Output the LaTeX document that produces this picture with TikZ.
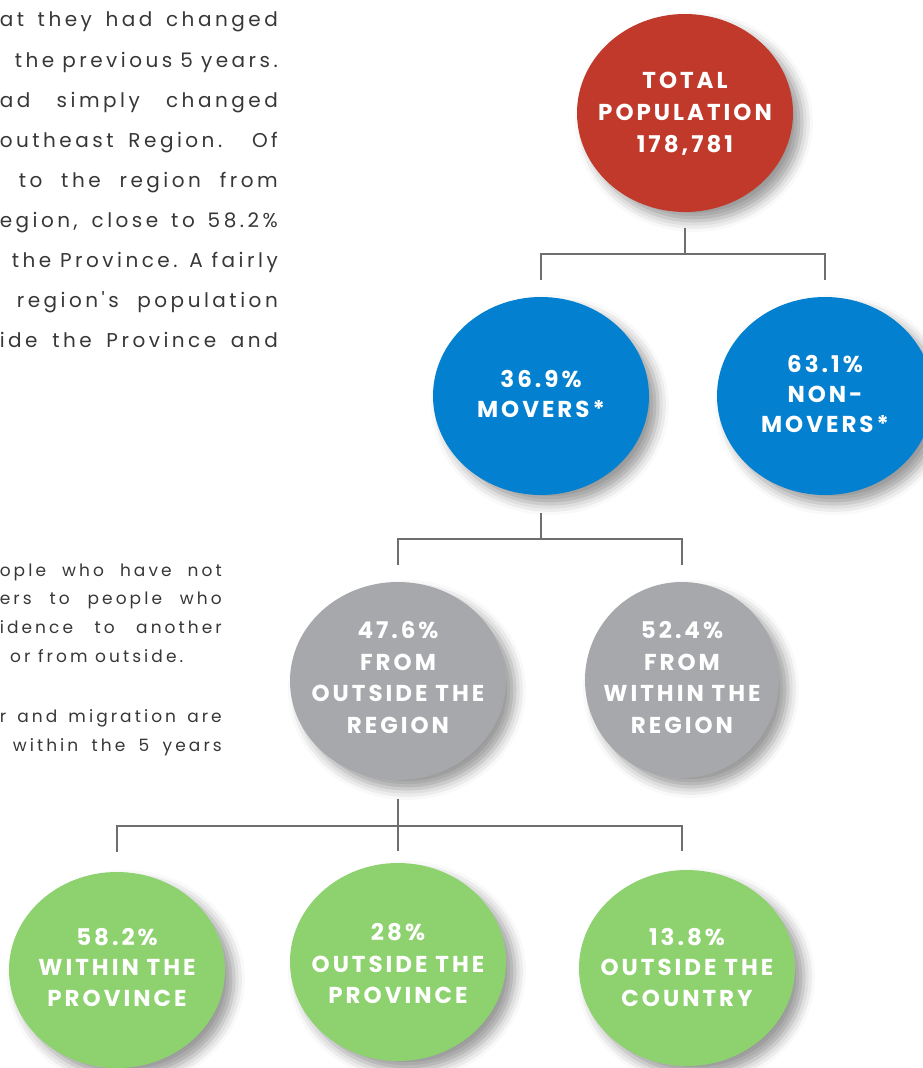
\documentclass[tikz,border=0pt]{standalone}
\usepackage{fontspec}
\setmainfont{Poppins}
\newfontfamily\bubblefam{Poppins}[LetterSpace=13]
\newfontfamily\bodyfam{Poppins}[LetterSpace=17.5]
\newfontfamily\notefam{Poppins}[LetterSpace=18]
\usetikzlibrary{shapes.geometric,shadows.blur}

\definecolor{popred}{RGB}{192,57,43}
\definecolor{popblue}{RGB}{3,129,208}
\definecolor{popgray}{RGB}{167,168,171}
\definecolor{popgreen}{RGB}{142,210,112}
\definecolor{linkgray}{RGB}{110,110,110}
\definecolor{bodytext}{RGB}{55,55,55}

\tikzset{
  bubble/.style={ellipse, inner sep=0pt, minimum width=216pt, minimum height=198pt,
    blur shadow={shadow xshift=9pt, shadow yshift=-9pt, shadow blur radius=11pt, shadow opacity=40}},
  redbubble/.style={bubble, fill=popred},
  bluebubble/.style={bubble, fill=popblue},
  graybubble/.style={bubble, fill=popgray},
  greenbubble/.style={bubble, fill=popgreen},
  bubbletext/.style={inner sep=0pt, text=white, align=center,
    font=\bubblefam\bfseries\fontsize{23}{31}\selectfont},
  link/.style={draw=linkgray, line width=2pt},
  bodyline/.style={inner sep=0pt, anchor=base east, text=bodytext,
    font=\bodyfam\fontsize{20}{24}\selectfont},
  noteline/.style={inner sep=0pt, anchor=base east, text=bodytext,
    font=\notefam\fontsize{17}{22}\selectfont},
}

\begin{document}
\begin{tikzpicture}[x=1pt, y=-1pt]
\useasboundingbox (0,0) rectangle (922,1068);

% paragraph running in from the left margin
\node[bodyline] (p1) at (278,27)  {\makebox[278pt][s]{at they had changed}};
\node[bodyline] (p2) at (278,67)  {\makebox[263pt][s]{the previous 5 years.}};
\node[bodyline] (p3) at (278,107) {\makebox[278pt][s]{ad simply changed}};
\node[bodyline] (p4) at (278,147) {\makebox[278pt][s]{outheast Region. Of}};
\node[bodyline] (p5) at (278,187) {\makebox[259pt][s]{to the region from}};
\node[bodyline] (p6) at (278,227) {\makebox[278pt][s]{egion, close to 58.2\%}};
\node[bodyline] (p7) at (278,267) {\makebox[266pt][s]{the Province. A fairly}};
\node[bodyline] (p8) at (278,307) {\makebox[261pt][s]{region's population}};
\node[bodyline] (p9) at (278,347) {\makebox[278pt][s]{ide the Province and}};

% footnote text
\node[noteline] (n1) at (222,576) {\makebox[222pt][s]{ople who have not}};
\node[noteline] (n2) at (222,604) {\makebox[222pt][s]{ers to people who}};
\node[noteline] (n3) at (222,633) {\makebox[222pt][s]{idence to another}};
\node[noteline, anchor=base west] (n4) at (10,662) {or from outside.};
\node[noteline] (n5) at (222,722) {\makebox[222pt][s]{r and migration are}};
\node[noteline] (n6) at (222,751) {\makebox[209pt][s]{within the 5 years}};

% population tree: bubbles
\node[redbubble] (total) at (685,113) {};
\node[bluebubble] (movers) at (541,396) {};
\node[bluebubble] (nonmovers) at (825,396) {};
\node[graybubble] (outreg) at (398,681) {};
\node[graybubble, minimum width=194pt, minimum height=196pt] (inreg) at (682,680) {};
\node[greenbubble, minimum height=196pt] (inprov) at (117,970) {};
\node[greenbubble] (outprov) at (398,962) {};
\node[greenbubble, minimum height=196pt] (outcountry) at (687,968) {};

% bubble labels
\node[bubbletext, font=\bubblefam\bfseries\fontsize{23}{32}\selectfont] (total-t) at (685,113.5) {TOTAL\\POPULATION\\178,781};
\node[bubbletext, font=\bubblefam\bfseries\fontsize{23}{30}\selectfont] (movers-t) at (541,393.5) {36.9\%\\MOVERS*};
\node[bubbletext, font=\bubblefam\bfseries\fontsize{23}{30}\selectfont] (nonmovers-t) at (825,394) {63.1\%\\NON-\\MOVERS*};
\node[bubbletext, font=\bubblefam\bfseries\fontsize{23}{31.7}\selectfont] (outreg-t) at (398,677.5) {47.6\%\\FROM\\OUTSIDE THE\\REGION};
\node[bubbletext, font=\bubblefam\bfseries\fontsize{23}{31.7}\selectfont] (inreg-t) at (682,677.5) {52.4\%\\FROM\\WITHIN THE\\REGION};
\node[bubbletext, font=\bubblefam\bfseries\fontsize{23}{30.5}\selectfont] (inprov-t) at (117,967) {58.2\%\\WITHIN THE\\PROVINCE};
\node[bubbletext, font=\bubblefam\bfseries\fontsize{23}{31.5}\selectfont] (outprov-t) at (398,963.5) {28\%\\OUTSIDE THE\\PROVINCE};
\node[bubbletext, font=\bubblefam\bfseries\fontsize{23}{30.5}\selectfont] (outcountry-t) at (687,967) {13.8\%\\OUTSIDE THE\\COUNTRY};

% connectors
\coordinate (j1) at (684,254);
\coordinate (j2) at (541,539);
\coordinate (j3) at (398,826);

\draw[link, shorten <=16pt] (total.south) -- (total.south |- j1);
\draw[link, shorten <=17pt, shorten >=17pt] (movers.north) -- (movers.north |- j1) -- (nonmovers.north |- j1) -- (nonmovers.north);

\draw[link, shorten <=18pt] (movers.south) -- (j2);
\draw[link, shorten <=17pt, shorten >=17pt] (outreg.north) -- (outreg.north |- j2) -- (inreg.north |- j2) -- (inreg.north);

\draw[link, shorten <=19pt] (outreg.south) -- (j3);
\draw[link, shorten >=12pt] (j3) -- (outprov.north);
\coordinate (j3r) at (682,851);
\draw[link, shorten <=20pt] (inprov.north) -- (inprov.north |- j3) -- (j3r |- j3) -- (j3r);
\end{tikzpicture}
\end{document}
